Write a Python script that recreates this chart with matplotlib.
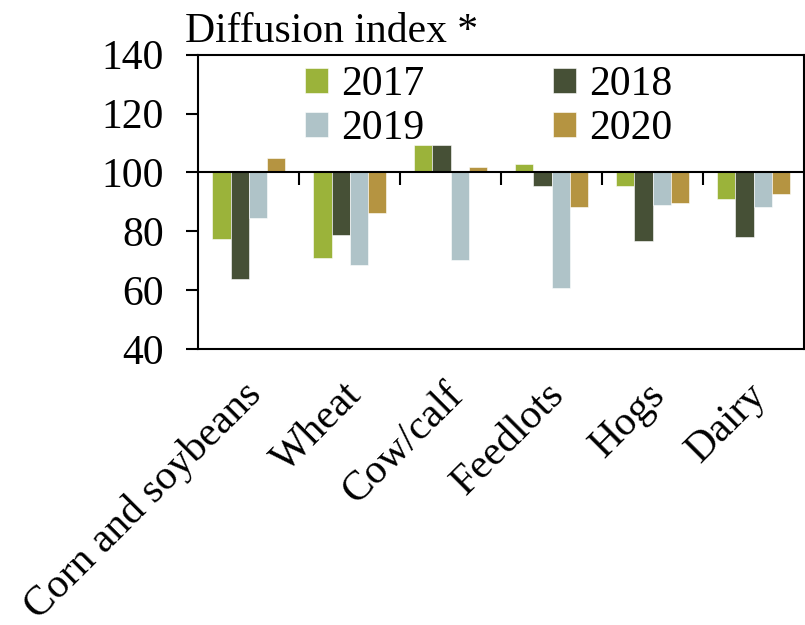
import matplotlib.pyplot as plt
import matplotlib.transforms as mtransforms
import numpy as np

plt.rcParams['font.family'] = ['Liberation Serif', 'DejaVu Serif']

categories = ["Corn and soybeans", "Wheat", "Cow/calf", "Feedlots", "Hogs", "Dairy"]
years = ["2017", "2018", "2019", "2020"]
idx_2017 = [77.4, 70.8, 109.2, 102.7, 95.5, 91.1]
idx_2018 = [63.7, 78.7, 109.2, 95.5, 76.6, 78.1]
idx_2019 = [84.6, 68.6, 70.1, 60.6, 89.0, 88.4]
idx_2020 = [104.9, 86.1, 101.9, 88.4, 89.7, 92.7]
series = [idx_2017, idx_2018, idx_2019, idx_2020]
colors = ["#9bb33a", "#465036", "#afc3c8", "#b59441"]

base = 100
fig = plt.figure(figsize=(8.05, 6.25), dpi=100)
ax = fig.add_axes([0.2463, 0.4416, 0.7525, 0.4709])

x = np.arange(len(categories))
w = 0.18
handles = {}
for i, (yr, vals, c) in enumerate(zip(years, series, colors)):
    vals = np.array(vals)
    b = ax.bar(x + (i - 1.5) * w, vals - base, w, bottom=base, color=c,
               edgecolor='white', linewidth=0.4)
    handles[yr] = b

ax.set_xlim(-0.5, len(categories) - 0.5)
ax.set_ylim(40, 140)
ax.set_yticks(np.arange(40, 141, 20))
ax.tick_params(axis='y', direction='out', length=8.5, width=1.5, pad=16, labelsize=30)

# crossing line at 100 with category separators hanging from it
ax.axhline(base, color='black', linewidth=1.5)
ax.vlines(np.arange(0.5, len(categories) - 0.5, 1), base - 4.4, base,
          color='black', linewidth=1.5)

ax.set_xticks(x)
ax.set_xticklabels(categories, rotation=45, ha='right', va='center',
                   rotation_mode='anchor', fontsize=30)
ax.tick_params(axis='x', length=0, pad=29)
shift = mtransforms.ScaledTranslation(7 / 100, 0, fig.dpi_scale_trans)
for lbl in ax.get_xticklabels():
    lbl.set_transform(lbl.get_transform() + shift)

for s in ax.spines.values():
    s.set_linewidth(1.5)

order = ["2017", "2019", "2018", "2020"]
ax.legend([handles[k] for k in order], order, ncol=2, frameon=False, fontsize=30,
          loc='upper left', bbox_to_anchor=(0.177, 0.962), borderpad=0,
          handlelength=0.55, handleheight=0.55, handletextpad=0.3,
          columnspacing=3.1, labelspacing=0.12, borderaxespad=0)

fig.text(185 / 805, 1 - 42 / 625, "Diffusion index *", fontsize=30, ha='left', va='baseline')

fig.savefig("out.png", dpi=100)
